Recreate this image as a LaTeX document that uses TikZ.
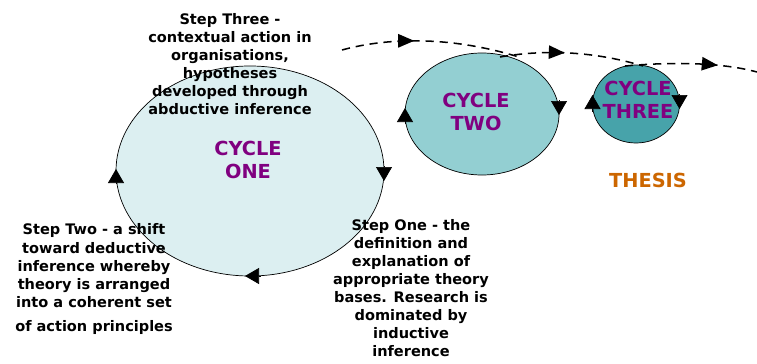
\documentclass[tikz,border=0pt]{standalone}
\usepackage{fontspec}
\setmainfont{DejaVu Sans}
\usepackage{tikz}
\usetikzlibrary{shapes.geometric,arrows.meta,calc,decorations.markings}

\definecolor{paleblue}{HTML}{DCEFF1}
\definecolor{midteal}{HTML}{93CFD2}
\definecolor{darkteal}{HTML}{47A3AA}
\definecolor{cycpurple}{HTML}{800080}
\definecolor{thesisorange}{HTML}{CC6600}

\begin{document}
\begin{tikzpicture}[
		x=0.03cm, y=-0.03cm,
		every node/.style={inner sep=0pt, outer sep=0pt},
		cycle/.style={ellipse, draw, line width=0.6pt},
		cyclabel/.style={align=center, text=cycpurple, font=\fontsize{16.5}{19.6}\selectfont\bfseries},
		steplabel/.style={align=center, font=\fontsize{12.4}{15.4}\selectfont\bfseries},
		cyctip/.style={-{Triangle[length=0.42cm,width=0.48cm]}, line width=0.6pt},
		flow/.style={line width=1.3pt, dash pattern=on 7pt off 5pt,
			postaction={decorate}},
		flowtip/.style={decoration={markings,
			mark=at position #1 with {\arrow{Triangle[length=0.48cm,width=0.4cm]}}}}
	]
  \useasboundingbox (0,0) rectangle (757,363);
  \node (one) [cycle, fill=paleblue, minimum width=8.04cm, minimum height=6.3cm] at (250,171) {};
  \node (two) [cycle, fill=midteal, minimum width=4.62cm, minimum height=3.66cm] at (482,114) {};
  \node (three) [cycle, fill=darkteal, minimum width=2.61cm, minimum height=2.34cm] at (636,104) {};
  \node (one_label) [cyclabel] at (248,160) {CYCLE\\ONE};
  \node (two_label) [cyclabel] at (476,112) {CYCLE\\TWO};
  \node (three_label) [cyclabel] at (638,100) {CYCLE\\THREE};
  \node (thesis) [cyclabel, text=thesisorange] at (648,180) {THESIS};
  \node (step_three) [steplabel] at (230,64) {Step Three -\\contextual action in\\organisations,\\hypotheses\\developed through\\abductive inference};
  \node (step_two) [steplabel] at (94,279) {Step Two - a shift\\toward deductive\\inference whereby\\theory is arranged\\into a coherent set\\[5pt]of action principles};
  \node (step_one) [steplabel] at (411,288) {Step One - the\\definition and\\explanation of\\appropriate theory\\bases. Research is\\dominated by\\inductive\\inference};
  \draw [cyctip] ($(one.east)+(0,-5)$) -- ($(one.east)+(0,10)$);
  \draw [cyctip] ($(one.south)+(11,0)$) -- ($(one.south)+(-5,0)$);
  \draw [cyctip] ($(one.west)+(0,13)$) -- ($(one.west)+(0,-2)$);
  \draw [cyctip] ($(two.west)+(0,10)$) -- ($(two.west)+(0,-6)$);
  \draw [cyctip] ($(two.east)+(0,-14)$) -- ($(two.east)+(0,1)$);
  \draw [cyctip] ($(three.west)+(0,8)$) -- ($(three.west)+(0,-9)$);
  \draw [cyctip] ($(three.east)+(0,-10)$) -- ($(three.east)+(0,5)$);
  \coordinate (f1) at (342,50);
  \coordinate (f2) at (522,58);
  \coordinate (f3) at (500,57);
  \coordinate (f4) at (643,66);
  \coordinate (f5) at (625,66);
  \coordinate (f6) at (757,72);
  \draw [flow, flowtip=0.4] (f1) .. controls (385,38) and (450,35) .. (f2);
  \draw [flow, flowtip=0.45] (f3) .. controls (540,50) and (590,50) .. (f4);
  \draw [flow, flowtip=0.7] (f5) .. controls (670,62) and (720,62) .. (f6);
\end{tikzpicture}
\end{document}
